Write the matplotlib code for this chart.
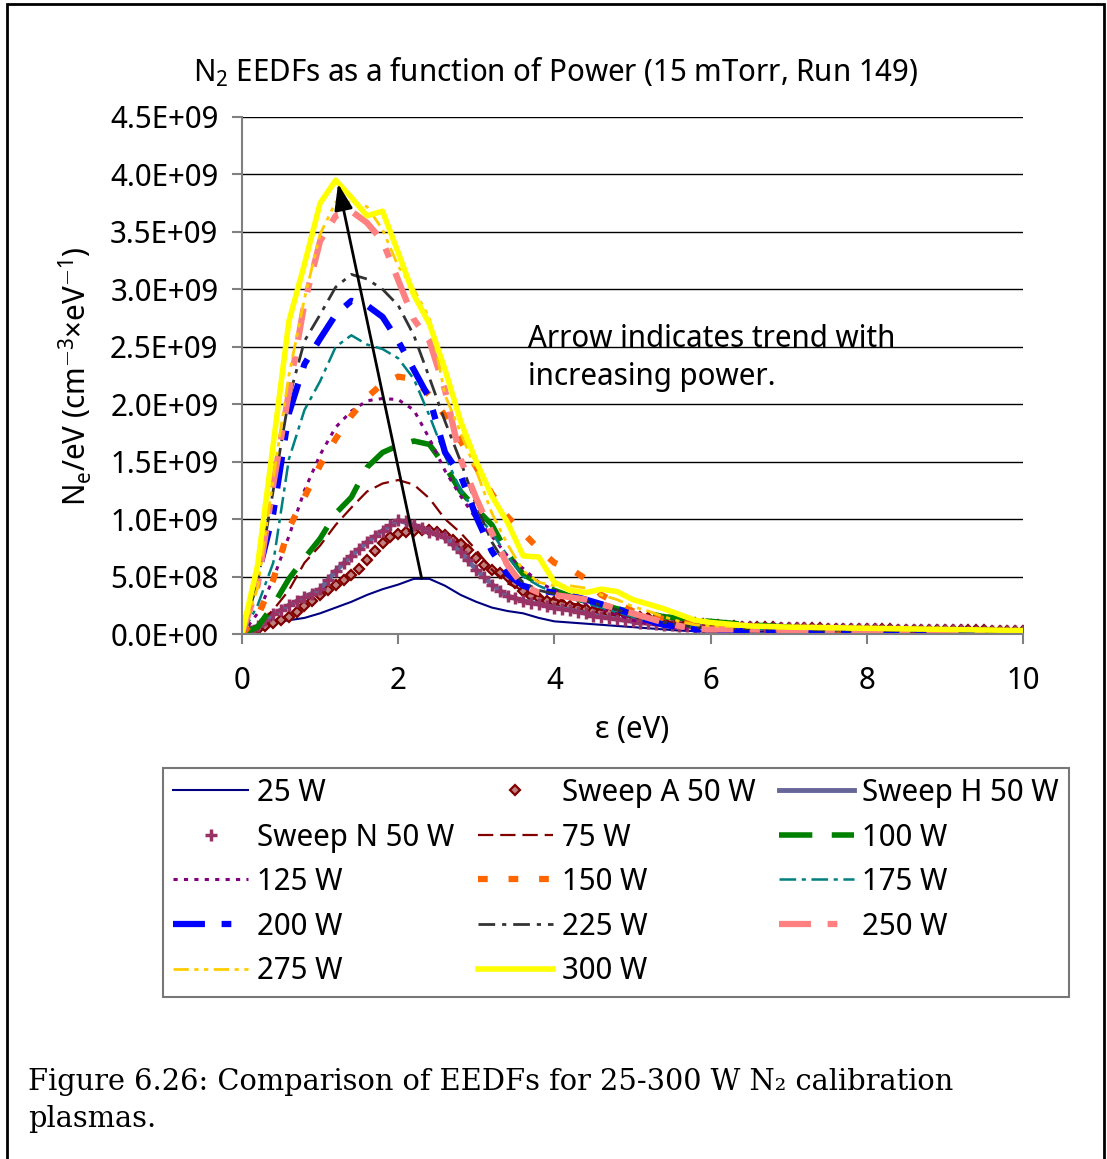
import numpy as np
import matplotlib
matplotlib.use("Agg")
import matplotlib.pyplot as plt
from matplotlib.patches import Rectangle
from matplotlib.ticker import FuncFormatter

SANS = 'Noto Sans Display'
plt.rcParams['font.family'] = [SANS, 'DejaVu Sans']
plt.rcParams['font.stretch'] = 'condensed'
plt.rcParams['mathtext.fontset'] = 'custom'
plt.rcParams['mathtext.rm'] = SANS + ':stretch=condensed'
plt.rcParams['mathtext.it'] = SANS + ':stretch=condensed'
plt.rcParams['lines.scale_dashes'] = False
FS = 22.5

# energy grid (eV) for the line series
energy = [0, 0.2, 0.4, 0.6, 0.8, 1.0, 1.2, 1.4, 1.6, 1.8, 2.0, 2.2, 2.4, 2.6, 2.8,
          3.0, 3.2, 3.4, 3.6, 3.8, 4.0, 4.2, 4.4, 4.6, 4.8, 5.0, 5.2, 5.4, 5.6, 5.8,
          6.0, 6.5, 7.0, 7.5, 8.0, 8.5, 9.0, 9.5, 10.0]
# finer grid for the marker-only sweeps
energy_fine = [round(0.1 * i, 1) for i in range(101)]

# EEDF values in units of 1e9 cm^-3 eV^-1
w25 = [0, 0.06, 0.10, 0.12, 0.14, 0.18, 0.23, 0.28, 0.34, 0.39, 0.43, 0.48, 0.48, 0.42, 0.34,
       0.28, 0.23, 0.20, 0.18, 0.14, 0.11, 0.10, 0.09, 0.08, 0.07, 0.06, 0.05, 0.04, 0.03, 0.025,
       0.02, 0.02, 0.02, 0.02, 0.02, 0.02, 0.015, 0.015, 0.015]
sweep_a = [0, 0.02, 0.04, 0.07, 0.10, 0.12, 0.15, 0.19, 0.24, 0.29,
           0.34, 0.38, 0.43, 0.47, 0.51, 0.57, 0.64, 0.72, 0.79, 0.84,
           0.87, 0.89, 0.90, 0.905, 0.905, 0.89, 0.86, 0.82, 0.78, 0.73,
           0.66, 0.60, 0.56, 0.53, 0.50, 0.44, 0.37, 0.33, 0.31, 0.29,
           0.28, 0.26, 0.24, 0.23, 0.22, 0.20, 0.19, 0.185, 0.18, 0.17,
           0.16, 0.15, 0.14, 0.13, 0.12, 0.115, 0.11, 0.10, 0.095, 0.09,
           0.08, 0.075, 0.07, 0.068, 0.065, 0.062, 0.06, 0.058, 0.057, 0.055,
           0.054, 0.052, 0.05, 0.05, 0.048, 0.047, 0.046, 0.045, 0.044, 0.043,
           0.042, 0.041, 0.04, 0.04, 0.039, 0.038, 0.037, 0.036, 0.036, 0.035,
           0.034, 0.034, 0.033, 0.032, 0.032, 0.031, 0.03, 0.03, 0.029, 0.028,
           0.028]
sweep_h = [0, 0.07, 0.17, 0.25, 0.32, 0.39, 0.55, 0.68, 0.80, 0.90, 0.99, 0.95, 0.89, 0.84, 0.71,
           0.56, 0.43, 0.33, 0.29, 0.26, 0.23, 0.21, 0.18, 0.15, 0.13, 0.11, 0.095, 0.08, 0.07, 0.065,
           0.062, 0.057, 0.05, 0.045, 0.04, 0.036, 0.032, 0.029, 0.025]
sweep_n = [0, 0.03, 0.07, 0.12, 0.17, 0.21, 0.25, 0.29, 0.32, 0.35,
           0.39, 0.47, 0.55, 0.62, 0.68, 0.74, 0.80, 0.85, 0.90, 0.95,
           0.99, 0.98, 0.95, 0.92, 0.89, 0.87, 0.84, 0.78, 0.71, 0.64,
           0.56, 0.50, 0.43, 0.37, 0.33, 0.31, 0.29, 0.27, 0.26, 0.24,
           0.23, 0.22, 0.21, 0.19, 0.18, 0.16, 0.15, 0.14, 0.13, 0.12,
           0.11, 0.10, 0.095, 0.09, 0.08, 0.075, 0.07, 0.068, 0.065, 0.063,
           0.062, 0.061, 0.06, 0.06, 0.058, 0.057, 0.055, 0.054, 0.053, 0.052,
           0.05, 0.05, 0.048, 0.047, 0.046, 0.045, 0.044, 0.043, 0.042, 0.041,
           0.04, 0.04, 0.039, 0.038, 0.037, 0.036, 0.035, 0.035, 0.034, 0.033,
           0.032, 0.032, 0.031, 0.03, 0.03, 0.029, 0.028, 0.028, 0.027, 0.026,
           0.025]
w75 = [0, 0.08, 0.21, 0.38, 0.62, 0.77, 0.95, 1.10, 1.24, 1.31, 1.34, 1.30, 1.18, 1.00, 0.88,
       0.73, 0.56, 0.44, 0.38, 0.33, 0.30, 0.27, 0.24, 0.21, 0.18, 0.15, 0.13, 0.11, 0.09, 0.08,
       0.07, 0.06, 0.05, 0.045, 0.04, 0.035, 0.03, 0.03, 0.025]
w100 = [0, 0.06, 0.25, 0.48, 0.66, 0.83, 1.05, 1.19, 1.45, 1.58, 1.64, 1.68, 1.65, 1.46, 1.24,
        1.09, 0.95, 0.70, 0.52, 0.44, 0.38, 0.33, 0.28, 0.26, 0.22, 0.19, 0.18, 0.15, 0.14, 0.12,
        0.11, 0.08, 0.06, 0.05, 0.045, 0.04, 0.035, 0.03, 0.03]
w125 = [0, 0.18, 0.48, 0.85, 1.25, 1.56, 1.80, 1.94, 2.03, 2.05, 2.04, 1.95, 1.70, 1.42, 1.20,
        1.00, 0.85, 0.68, 0.57, 0.45, 0.38, 0.32, 0.27, 0.22, 0.17, 0.12, 0.09, 0.07, 0.05, 0.04,
        0.035, 0.03, 0.03, 0.025, 0.025, 0.02, 0.02, 0.02, 0.02]
w150 = [0, 0.15, 0.47, 0.92, 1.19, 1.47, 1.70, 1.90, 2.06, 2.18, 2.24, 2.22, 2.08, 1.90, 1.68,
        1.45, 1.22, 1.02, 0.88, 0.74, 0.62, 0.57, 0.48, 0.34, 0.27, 0.20, 0.16, 0.13, 0.10, 0.08,
        0.06, 0.05, 0.045, 0.04, 0.035, 0.03, 0.03, 0.025, 0.02]
w175 = [0, 0.25, 0.62, 1.52, 1.95, 2.20, 2.50, 2.60, 2.52, 2.48, 2.40, 2.22, 1.90, 1.55, 1.25,
        1.05, 0.88, 0.68, 0.50, 0.42, 0.36, 0.32, 0.27, 0.23, 0.19, 0.15, 0.12, 0.10, 0.08, 0.06,
        0.05, 0.045, 0.04, 0.035, 0.03, 0.03, 0.025, 0.025, 0.02]
w200 = [0, 0.50, 1.05, 1.92, 2.35, 2.57, 2.78, 2.90, 2.86, 2.76, 2.55, 2.30, 2.05, 1.58, 1.38,
        1.02, 0.72, 0.52, 0.42, 0.38, 0.36, 0.34, 0.30, 0.26, 0.22, 0.17, 0.12, 0.08, 0.06, 0.04,
        0.035, 0.03, 0.03, 0.025, 0.025, 0.02, 0.02, 0.02, 0.02]
w225 = [0, 0.45, 1.25, 2.05, 2.55, 2.78, 3.02, 3.13, 3.09, 3.00, 2.86, 2.60, 2.23, 1.85, 1.50,
        1.12, 0.80, 0.58, 0.45, 0.38, 0.35, 0.32, 0.29, 0.25, 0.21, 0.17, 0.13, 0.10, 0.08, 0.06,
        0.05, 0.045, 0.04, 0.035, 0.03, 0.03, 0.025, 0.025, 0.02]
w250 = [0, 0.42, 1.30, 2.10, 2.88, 3.42, 3.64, 3.68, 3.58, 3.42, 3.08, 2.74, 2.55, 2.12, 1.52,
        1.18, 0.88, 0.60, 0.42, 0.36, 0.34, 0.32, 0.30, 0.26, 0.22, 0.18, 0.14, 0.10, 0.07, 0.05,
        0.04, 0.04, 0.035, 0.03, 0.03, 0.025, 0.025, 0.02, 0.02]
w275 = [0, 0.40, 1.35, 2.25, 2.92, 3.48, 3.76, 3.76, 3.72, 3.52, 3.20, 3.00, 2.75, 2.08, 1.75,
        1.42, 1.05, 0.78, 0.55, 0.45, 0.42, 0.42, 0.40, 0.34, 0.30, 0.24, 0.20, 0.15, 0.11, 0.08,
        0.07, 0.06, 0.05, 0.045, 0.04, 0.035, 0.03, 0.03, 0.025]
w300 = [0, 0.60, 1.65, 2.72, 3.22, 3.75, 3.95, 3.80, 3.64, 3.68, 3.32, 2.95, 2.70, 2.30, 1.85,
        1.50, 1.20, 0.97, 0.68, 0.67, 0.45, 0.38, 0.36, 0.39, 0.37, 0.30, 0.26, 0.22, 0.17, 0.12,
        0.10, 0.07, 0.06, 0.055, 0.05, 0.045, 0.04, 0.035, 0.03]

# trend arrow: from the 25 W peak to the 300 W peak (eV, 1e9)
arrow_start = (2.3, 0.485)
arrow_end = (1.23, 3.92)

scale = 1e9
E = np.array(energy)
Ef = np.array(energy_fine)

W, H = 1107, 1159
fig = plt.figure(figsize=(W / 100, H / 100), dpi=100)
ax = fig.add_axes([242 / W, 1 - 634 / H, 781 / W, 517 / H])

h = {}
h['25'], = ax.plot(E, np.array(w25) * scale, color='#000080', lw=1.5, label='25 W')
h['A'], = ax.plot(Ef, np.array(sweep_a) * scale, ls='none', marker='D', ms=4.8,
                  mfc='#c08080', mec='#800000', mew=1.6, label='Sweep A 50 W')
h['H'], = ax.plot(E, np.array(sweep_h) * scale, color='#666699', lw=3.5, label='Sweep H 50 W')
h['N'], = ax.plot(Ef, np.array(sweep_n) * scale, ls='none', marker='+', ms=9,
                  mec='#993366', mew=2.5, label='Sweep N 50 W')
h['75'], = ax.plot(E, np.array(w75) * scale, color='#800000', lw=1.6,
                   dashes=(11, 5), label='75 W')
h['100'], = ax.plot(E, np.array(w100) * scale, color='#008000', lw=4,
                    dashes=(24, 14), label='100 W')
h['125'], = ax.plot(E, np.array(w125) * scale, color='#800080', lw=2.2,
                    dashes=(3, 4.5), label='125 W')
h['150'], = ax.plot(E, np.array(w150) * scale, color='#FF6600', lw=4.5,
                    dashes=(7, 15), label='150 W')
h['175'], = ax.plot(E, np.array(w175) * scale, color='#008080', lw=1.8,
                    dashes=(12, 4, 3, 4), label='175 W')
h['200'], = ax.plot(E, np.array(w200) * scale, color='#0000FF', lw=4.5,
                    dashes=(23, 12, 7, 12), label='200 W')
h['225'], = ax.plot(E, np.array(w225) * scale, color='#333333', lw=2,
                    dashes=(12, 5, 3, 5), label='225 W')
h['250'], = ax.plot(E, np.array(w250) * scale, color='#FF8080', lw=4.5,
                    dashes=(23, 12, 7, 12), label='250 W')
h['275'], = ax.plot(E, np.array(w275) * scale, color='#FFCC00', lw=2,
                    dashes=(11, 4, 3, 4, 3, 4), label='275 W')
h['300'], = ax.plot(E, np.array(w300) * scale, color='#FFFF00', lw=4, label='300 W')

ax.annotate('', xy=(arrow_end[0], arrow_end[1] * scale),
            xytext=(arrow_start[0], arrow_start[1] * scale),
            arrowprops=dict(arrowstyle='-|>,head_length=0.8,head_width=0.28',
                            mutation_scale=20, color='black', lw=2,
                            shrinkA=0, shrinkB=0))

# annotation inside the plot, positioned by baseline in pixels
for txt, ypx in (('Arrow indicates trend with', 347), ('increasing power.', 385)):
    fig.text(528 / W, 1 - ypx / H, txt, fontsize=FS, va='baseline', ha='left')

ax.set_xlim(0, 10)
ax.set_ylim(0, 4.5e9)
ax.set_xticks(np.arange(0, 11, 2))
ax.set_yticks(np.arange(0, 4.51e9, 0.5e9))
ax.yaxis.set_major_formatter(FuncFormatter(lambda v, p: f'{v:.1E}'))
ax.grid(axis='y', color='black', lw=1)
ax.set_axisbelow(True)
for side in ('top', 'right'):
    ax.spines[side].set_visible(False)
for side in ('left', 'bottom'):
    ax.spines[side].set_color('#808080')
    ax.spines[side].set_linewidth(1.5)
ax.tick_params(axis='both', colors='#808080', labelcolor='black', labelsize=FS,
               length=7, width=1.5)
ax.tick_params(axis='x', pad=16)
ax.tick_params(axis='y', pad=10)

fig.text(556 / W, 1 - 82 / H, r'N$_2$ EEDFs as a function of Power (15 mTorr, Run 149)',
         fontsize=FS, ha='center', va='baseline')
fig.text(632 / W, 1 - 738 / H, 'ε (eV)', fontsize=FS, ha='center', va='baseline')
fig.text(75 / W, 1 - 376 / H, r'N$_e$/eV (cm$^{-3}$×eV$^{-1}$)', fontsize=FS,
         ha='center', va='center', rotation=90)

order = ['25', 'N', '125', '200', '275', 'A', '75', '150', '225', '300',
         'H', '100', '175', '250']
leg = fig.legend([h[k] for k in order], [h[k].get_label() for k in order],
                 loc='upper left', bbox_to_anchor=(163 / W, 1 - 768 / H),
                 ncol=3, fontsize=FS, frameon=True, fancybox=False,
                 handlelength=2.4, handletextpad=0.28, columnspacing=0.75,
                 labelspacing=0.465, borderpad=0.33, borderaxespad=0, numpoints=1)
leg.get_frame().set_edgecolor('#555555')
leg.get_frame().set_linewidth(1.5)

caption = ['Figure 6.26: Comparison of EEDFs for 25-300 W N₂ calibration', 'plasmas.']
for line, ypx in zip(caption, (1090, 1127)):
    fig.text(28 / W, 1 - ypx / H, line, family='DejaVu Serif', stretch='normal',
             fontsize=20.8, va='baseline', ha='left')

fig.patches.append(Rectangle((7 / W, -0.05), 1097 / W, 1.05 - 4 / H,
                             transform=fig.transFigure, fill=False,
                             edgecolor='black', lw=2))

fig.savefig('out.png', dpi=100)
